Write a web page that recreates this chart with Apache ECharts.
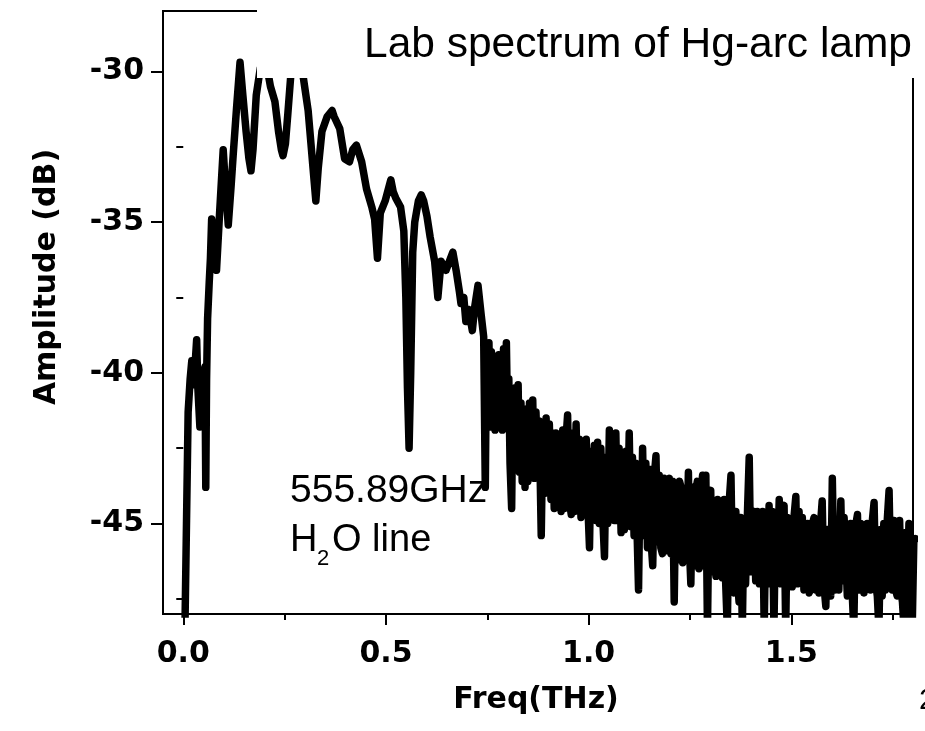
<!DOCTYPE html>
<html><head><meta charset="utf-8">
<script src="https://cdn.jsdelivr.net/npm/echarts@6/dist/echarts.min.js"></script>
<style>html,body{margin:0;padding:0;background:#fff}#c{width:925px;height:731px}</style>
</head><body><div id="c"></div>
<script>
// smooth low-frequency part of the spectrum (THz, dB)
const lowFreq = [
0.004,0.012,0.017,0.021,0.026,0.033,0.036,0.041,0.046,0.050,0.0535,0.0555,0.0575,0.060,0.064,0.067,0.070,0.076,0.082,0.090,
0.0985,0.104,0.111,0.118,0.123,0.1315,0.140,0.147,0.155,0.162,0.167,0.172,0.180,0.190,0.198,0.207,0.215,0.226,0.235,0.242,
0.246,0.252,0.258,0.266,0.274,0.288,0.296,0.308,0.320,0.327,0.333,0.342,0.355,0.367,0.372,0.386,0.398,0.410,0.418,0.427,
0.440,0.452,0.465,0.472,0.479,0.486,0.498,0.512,0.518,0.524,0.536,0.544,0.549,0.553,0.557,0.561,0.566,0.571,0.580,0.587,
0.593,0.601,0.609,0.620,0.628,0.636,0.648,0.665,0.673,0.681,0.685,0.692,0.697,0.704,0.713,0.719,0.727,0.735,0.741
];
const lowAmp = [
-48.6,-41.3,-40.2,-39.6,-40.4,-38.9,-40.5,-41.8,-40.6,-40.0,-39.8,-43.8,-40.2,-38.2,-37.0,-36.2,-34.9,-35.8,-36.6,-34.6,
-32.6,-33.8,-35.1,-33.8,-32.8,-31.2,-29.7,-30.8,-32.0,-32.9,-33.3,-32.6,-30.8,-29.9,-29.7,-29.9,-30.5,-31.0,-32.0,-32.6,
-32.8,-32.4,-31.4,-30.0,-29.6,-29.6,-30.2,-31.3,-33.2,-34.3,-33.2,-32.0,-31.5,-31.3,-31.5,-31.9,-32.9,-33.0,-32.6,-32.45,
-33.0,-33.9,-34.5,-34.9,-36.2,-34.7,-34.3,-33.6,-34.0,-34.2,-34.5,-35.3,-37.5,-40.5,-42.5,-40.0,-36.0,-35.0,-34.3,-34.1,
-34.3,-34.8,-35.5,-36.3,-37.5,-36.3,-36.6,-36.0,-36.6,-37.3,-37.7,-37.5,-38.3,-37.9,-38.6,-37.8,-37.1,-38.1,-38.8
];
// noisy high-frequency part (THz, dB)
const highFreq = [
0.745,0.748,0.751,0.754,0.757,0.760,0.763,0.766,0.769,0.772,
0.775,0.778,0.781,0.784,0.787,0.790,0.793,0.797,0.800,0.803,
0.806,0.810,0.813,0.816,0.819,0.822,0.826,0.829,0.833,0.836,
0.840,0.843,0.846,0.850,0.854,0.858,0.862,0.866,0.870,0.874,
0.878,0.883,0.887,0.891,0.895,0.899,0.903,0.907,0.911,0.915,
0.919,0.923,0.928,0.932,0.936,0.940,0.944,0.948,0.952,0.957,
0.961,0.965,0.969,0.973,0.977,0.981,0.985,0.990,0.994,0.998,
1.002,1.006,1.010,1.014,1.018,1.022,1.026,1.030,1.034,1.039,
1.043,1.047,1.051,1.055,1.059,1.063,1.067,1.071,1.075,1.080,
1.084,1.088,1.092,1.096,1.100,1.104,1.108,1.112,1.116,1.120,
1.123,1.127,1.130,1.133,1.137,1.141,1.145,1.150,1.154,1.158,
1.162,1.166,1.170,1.174,1.178,1.182,1.186,1.190,1.195,1.199,
1.203,1.207,1.211,1.215,1.219,1.224,1.228,1.232,1.236,1.241,
1.246,1.249,1.252,1.256,1.260,1.264,1.268,1.272,1.276,1.281,
1.285,1.289,1.293,1.297,1.301,1.305,1.309,1.314,1.318,1.322,
1.326,1.330,1.334,1.338,1.342,1.346,1.351,1.355,1.359,1.363,
1.367,1.371,1.375,1.379,1.383,1.387,1.392,1.396,1.400,1.404,
1.408,1.412,1.416,1.421,1.425,1.429,1.433,1.437,1.441,1.445,
1.449,1.453,1.457,1.461,1.465,1.470,1.474,1.478,1.482,1.486,
1.490,1.494,1.498,1.502,1.507,1.511,1.515,1.519,1.523,1.527,
1.531,1.535,1.540,1.544,1.548,1.552,1.556,1.560,1.564,1.568,
1.572,1.576,1.580,1.585,1.589,1.593,1.597,1.601,1.605,1.609,
1.613,1.617,1.622,1.626,1.630,1.634,1.638,1.642,1.646,1.650,
1.654,1.658,1.663,1.667,1.671,1.675,1.679,1.683,1.687,1.691,
1.695,1.699,1.704,1.708,1.712,1.716,1.720,1.724,1.728,1.732,
1.736,1.741,1.745,1.749,1.753,1.757,1.761,1.764,1.767,1.771,
1.774,1.778,1.782,1.786,1.790,1.794,1.798,1.802,1.806
];
const highAmp = [
-43.8,-39.2,-41.4,-39.0,-41.8,-39.3,-41.2,-39.6,-41.9,-39.8,
-41.8,-39.4,-41.5,-39.5,-41.9,-39.2,-41.4,-39.0,-41.6,-40.2,
-43.0,-44.5,-40.8,-42.6,-40.5,-43.0,-40.4,-43.3,-41.0,-43.6,
-41.2,-43.8,-41.5,-43.6,-41.0,-43.2,-40.9,-43.5,-41.3,-43.0,
-41.6,-45.4,-41.8,-44.0,-41.5,-43.8,-41.7,-44.2,-42.0,-44.5,
-42.0,-44.4,-42.3,-44.6,-41.9,-44.5,-42.2,-41.4,-44.2,-44.7,
-42.0,-44.6,-41.7,-44.3,-42.2,-44.8,-42.3,-44.6,-42.2,-44.4,
-45.8,-42.6,-44.6,-42.4,-44.9,-42.3,-45.0,-42.5,-44.6,-46.1,
-42.8,-45.0,-41.9,-44.8,-42.4,-44.9,-42.0,-44.9,-42.5,-45.3,
-42.9,-45.2,-42.6,-45.0,-42.0,-45.1,-42.8,-45.4,-43.0,-45.6,
-47.2,-43.2,-45.3,-42.5,-45.4,-43.0,-45.8,-43.2,-45.6,-46.4,
-43.4,-42.75,-45.6,-43.4,-45.8,-46.0,-43.5,-45.9,-43.6,-43.5,
-46.0,-43.6,-47.6,-43.8,-46.2,-43.6,-43.8,-46.3,-43.9,-46.2,
-43.3,-46.0,-47.0,-43.8,-46.4,-43.9,-43.6,-46.5,-44.0,-43.4,
-46.4,-43.4,-48.5,-44.2,-43.9,-46.6,-44.3,-46.75,-44.2,-46.6,
-44.3,-46.8,-44.2,-47.0,-48.5,-44.4,-43.4,-46.8,-47.3,-44.6,
-46.9,-47.6,-44.8,-48.5,-44.9,-47.0,-44.5,-42.8,-46.6,-46.2,
-44.6,-46.9,-44.6,-47.0,-46.5,-44.6,-48.5,-44.9,-47.0,-44.4,
-47.0,-44.6,-48.5,-44.8,-46.8,-44.2,-47.0,-44.5,-44.4,-48.5,
-44.8,-47.0,-44.9,-47.1,-44.7,-44.1,-47.0,-44.6,-46.9,-44.8,
-47.2,-46.9,-45.0,-47.3,-47.1,-45.0,-44.8,-47.2,-44.9,-47.3,
-45.0,-44.25,-47.0,-47.75,-45.2,-45.6,-47.4,-43.5,-46.6,-47.2,
-44.9,-47.2,-44.25,-46.9,-44.8,-45.97,-47.4,-47.4,-45.0,-47.3,
-48.5,-45.1,-44.7,-47.2,-45.0,-45.0,-47.3,-46.75,-45.0,-45.1,
-47.2,-45.0,-44.3,-47.0,-47.4,-48.5,-45.2,-47.4,-45.0,-47.2,
-45.0,-43.9,-46.8,-47.2,-44.9,-47.2,-47.4,-45.2,-44.9,-47.3,
-47.6,-48.5,-45.3,-47.2,-45.0,-47.4,-48.5,-45.6,-45.5
];
const xMajorTicks = [0, 0.5, 1.0, 1.5];
const xMinorTicks = [0.25, 0.75, 1.25, 1.75];
const yMajorTicks = [-45, -40, -35, -30];
const yMinorTicks = [-47.5, -42.5, -37.5, -32.5];
const titleText = 'Lab spectrum of Hg-arc lamp';
const xName = 'Freq(THz)';
const yName = 'Amplitude (dB)';
const noteLine1 = '555.89GHz';

const freqTHz = lowFreq.concat(highFreq);
const ampDB = lowAmp.concat(highAmp);
const pts = freqTHz.map((f, i) => [f, ampDB[i]]);

const chart = echarts.init(document.getElementById('c'), null, {renderer: 'canvas'});
const labelFont = {fontFamily: 'DejaVu Sans', fontWeight: 'bold', fontSize: 30, color: '#000'};
const X0 = -0.05, X1 = 1.8, Y0 = -48, Y1 = -28;

chart.setOption({
  animation: false,
  backgroundColor: '#fff',
  grid: {left: 163, right: 12, top: 11, bottom: 117, show: true, borderColor: '#000', borderWidth: 2, backgroundColor: 'transparent'},
  xAxis: [
    {type: 'value', min: X0, max: X1, position: 'bottom',
     axisLine: {show: true, onZero: false, lineStyle: {color: '#000', width: 2}},
     axisTick: {show: true, customValues: xMajorTicks, length: 11, lineStyle: {color: '#000', width: 2}},
     axisLabel: Object.assign({show: true, customValues: xMajorTicks, margin: 25, formatter: v => Number(v).toFixed(1)}, labelFont),
     splitLine: {show: false}},
    {type: 'value', min: X0, max: X1, position: 'bottom',
     axisLine: {show: false},
     axisTick: {show: true, customValues: xMinorTicks, length: 6, lineStyle: {color: '#000', width: 2}},
     axisLabel: {show: false}, splitLine: {show: false}}
  ],
  yAxis: [
    {type: 'value', min: Y0, max: Y1, position: 'left',
     axisLine: {show: true, onZero: false, lineStyle: {color: '#000', width: 2}},
     axisTick: {show: true, customValues: yMajorTicks, length: 12, lineStyle: {color: '#000', width: 2}},
     axisLabel: Object.assign({show: true, customValues: yMajorTicks, margin: 19, formatter: v => String(v)}, labelFont),
     splitLine: {show: false}},
    {type: 'value', min: Y0, max: Y1, position: 'left',
     axisLine: {show: false},
     axisTick: {show: true, customValues: yMinorTicks, length: 7, lineStyle: {color: '#000', width: 2}},
     axisLabel: {show: false}, splitLine: {show: false}}
  ],
  series: [{
    type: 'line', xAxisIndex: 0, yAxisIndex: 0, data: pts, showSymbol: false, symbol: 'none',
    clip: true, lineStyle: {color: '#000', width: 7.5, cap: 'round', join: 'round'}, z: 5
  }],
  graphic: [
    {type: 'rect', z: 100, shape: {x: 257, y: 0, width: 668, height: 78}, style: {fill: '#fff'}},
    {type: 'text', z: 101, x: 364, y: 45, style: {text: titleText, font: '42.5px "Liberation Sans"', fill: '#000', textAlign: 'left', textVerticalAlign: 'middle'}},
    {type: 'text', z: 101, x: 536, y: 700, style: {text: xName, font: 'bold 30px "DejaVu Sans"', fill: '#000', textAlign: 'center', textVerticalAlign: 'middle'}},
    {type: 'text', z: 101, x: 47, y: 277, rotation: Math.PI / 2, style: {text: yName, font: 'bold 30px "DejaVu Sans"', fill: '#000', textAlign: 'center', textVerticalAlign: 'middle'}},
    {type: 'text', z: 101, x: 290, y: 491, style: {text: noteLine1, font: '39px "Liberation Sans"', fill: '#000', textAlign: 'left', textVerticalAlign: 'middle'}},
    {type: 'text', z: 101, x: 290, y: 541, style: {text: 'H', font: '38px "Liberation Sans"', fill: '#000', textAlign: 'left', textVerticalAlign: 'middle'}},
    {type: 'text', z: 101, x: 317, y: 559, style: {text: '2', font: '22px "Liberation Sans"', fill: '#000', textAlign: 'left', textVerticalAlign: 'middle'}},
    {type: 'text', z: 101, x: 332, y: 541, style: {text: 'O line', font: '38px "Liberation Sans"', fill: '#000', textAlign: 'left', textVerticalAlign: 'middle'}},
    {type: 'text', z: 101, x: 919, y: 701, style: {text: '2', font: '30px "Liberation Sans"', fill: '#000', textAlign: 'left', textVerticalAlign: 'middle'}}
  ]
});
</script>
</body></html>
